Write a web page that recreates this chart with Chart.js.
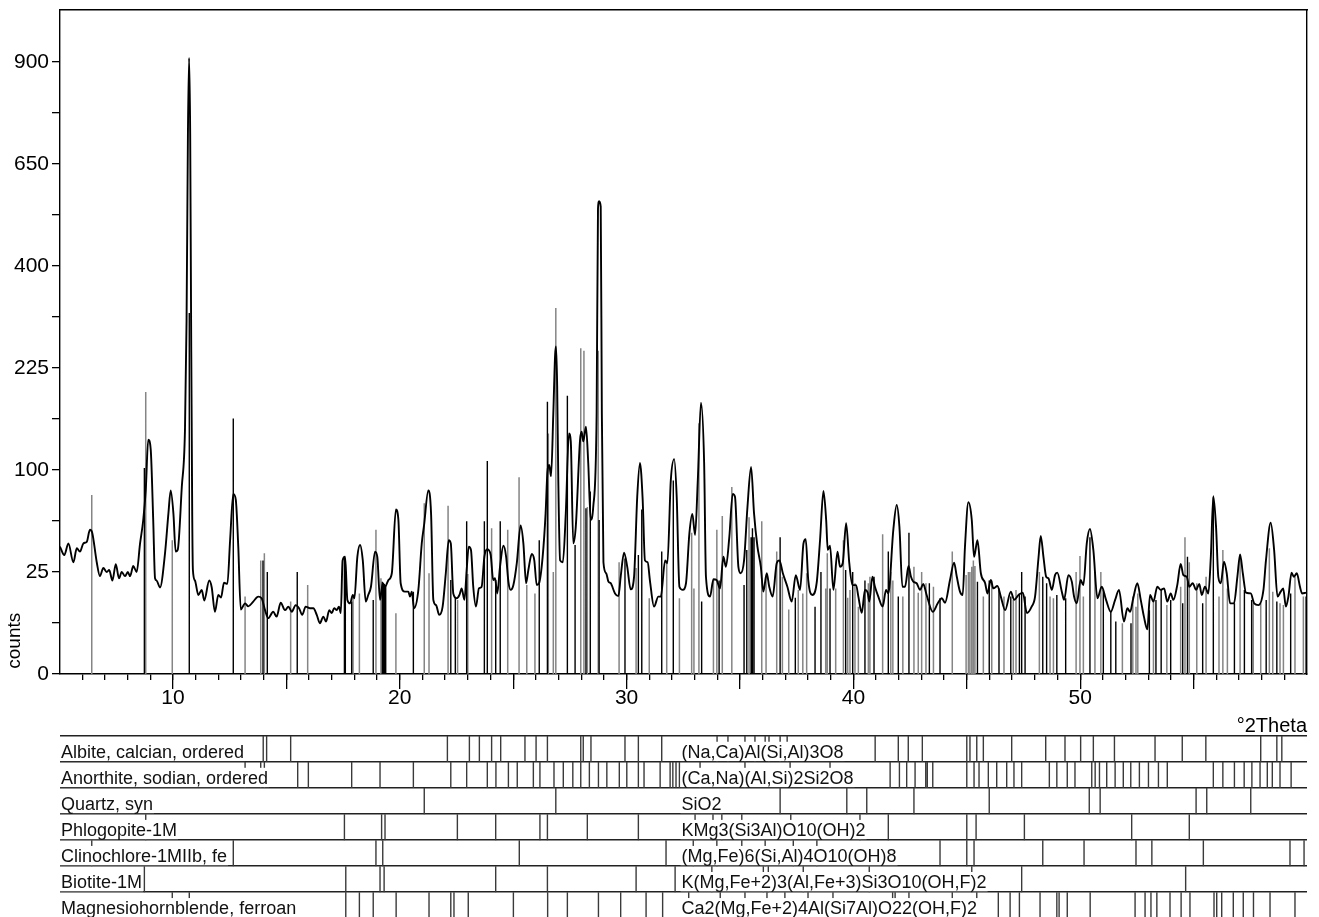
<!DOCTYPE html>
<html><head><meta charset="utf-8">
<script src="https://cdn.jsdelivr.net/npm/chart.js@4.4.1/dist/chart.umd.min.js"></script>
<style>
html,body{margin:0;padding:0;background:#fff;overflow:hidden;width:1319px;height:917px;}
#c1{position:absolute;left:0;top:0;width:1319px;height:740px;}
#c2{position:absolute;left:0;top:730px;width:1319px;height:200px;}
</style></head><body>
<canvas id="c1" width="1319" height="740"></canvas>
<canvas id="c2" width="1319" height="200"></canvas>
<script>
// ---------------- data ----------------
const twoTheta = [5.02,5.21,5.39,5.61,5.76,5.90,6.05,6.20,6.34,6.44,6.64,6.78,6.93,7.08,7.19,7.33,7.48,7.62,7.74,7.89,8.01,8.11,8.25,8.40,8.55,8.69,8.80,8.91,9.02,9.13,9.21,9.28,9.43,9.65,9.80,9.90,10.02,10.12,10.21,10.39,10.53,10.60,10.66,10.71,10.76,10.80,10.85,10.88,10.97,11.12,11.27,11.38,11.60,11.71,11.85,12.00,12.12,12.25,12.40,12.52,12.66,12.77,12.88,12.99,13.18,13.32,13.54,13.76,13.91,14.06,14.20,14.42,14.57,14.75,14.94,15.09,15.24,15.41,15.56,15.70,15.85,16.04,16.19,16.34,16.48,16.63,16.75,16.89,17.00,17.11,17.22,17.32,17.40,17.48,17.59,17.69,17.81,17.93,18.00,18.13,18.25,18.37,18.50,18.61,18.73,18.91,19.01,19.13,19.25,19.35,19.50,19.65,19.83,19.94,20.04,20.23,20.38,20.45,20.53,20.63,20.82,20.97,21.07,21.26,21.38,21.48,21.60,21.74,21.89,22.03,22.16,22.25,22.36,22.51,22.63,22.73,22.85,22.95,23.04,23.14,23.24,23.36,23.49,23.61,23.73,23.86,24.01,24.12,24.20,24.30,24.42,24.57,24.69,24.79,24.89,25.01,25.16,25.33,25.45,25.57,25.67,25.82,25.93,26.04,26.14,26.30,26.43,26.51,26.59,26.67,26.77,26.85,26.89,26.94,26.99,27.07,27.19,27.32,27.46,27.54,27.65,27.76,27.95,28.02,28.09,28.21,28.31,28.42,28.53,28.68,28.74,28.79,28.86,28.91,28.98,29.10,29.20,29.30,29.49,29.64,29.74,29.89,30.03,30.18,30.33,30.47,30.59,30.71,30.81,30.93,31.03,31.21,31.40,31.51,31.70,31.80,31.95,32.10,32.21,32.33,32.48,32.62,32.77,32.90,33.02,33.14,33.28,33.42,33.50,33.68,33.83,33.97,34.12,34.27,34.38,34.53,34.68,34.78,34.93,35.03,35.18,35.33,35.49,35.62,35.77,35.92,36.03,36.18,36.29,36.44,36.62,36.74,36.89,37.09,37.28,37.46,37.65,37.80,37.90,38.01,38.19,38.38,38.53,38.68,38.80,38.87,38.97,39.12,39.30,39.41,39.53,39.68,39.82,39.96,40.12,40.22,40.37,40.51,40.63,40.70,40.84,40.95,41.10,41.29,41.44,41.54,41.76,41.91,42.03,42.16,42.28,42.43,42.54,42.64,42.79,42.94,43.08,43.23,43.50,43.72,43.90,44.04,44.26,44.44,44.56,44.70,44.82,44.92,45.07,45.22,45.32,45.47,45.62,45.81,45.91,46.06,46.17,46.35,46.50,46.69,46.94,47.09,47.28,47.47,47.65,47.86,48.01,48.16,48.26,48.38,48.50,48.60,48.75,48.89,48.99,49.19,49.29,49.48,49.63,49.73,49.85,50.02,50.14,50.29,50.43,50.58,50.76,50.95,51.14,51.35,51.54,51.71,51.93,52.08,52.20,52.34,52.52,52.67,52.81,52.96,53.08,53.23,53.40,53.55,53.70,53.84,53.99,54.11,54.28,54.43,54.55,54.70,54.81,54.96,55.11,55.25,55.36,55.50,55.65,55.76,55.87,55.99,56.09,56.20,56.34,56.46,56.61,56.78,56.93,57.05,57.17,57.31,57.52,57.67,57.86,58.08,58.19,58.40,58.55,58.70,58.84,58.95,59.07,59.18,59.32,59.42,59.55,59.69,59.78,59.96];
const counts = [39,34,41,30,38,36,41,42,50,48,30,23,27,25,26,21,29,22,25,23,25,23,28,25,41,57,81,132,121,57,22,21,18,35,62,81,62,36,37,84,143,300,700,912,700,300,60,26,21,15,17,13,21,18,9.3,15,14,20,19.5,43,78,73,39,10,12,11,12.6,14.4,13.8,9.8,7.5,9.3,7.9,12.2,9.8,10.9,9.3,11.4,10.4,8.4,10.9,10.4,10.4,8.4,6.2,7.9,6.6,9.8,8.9,10.4,9.8,10.9,8.9,31,33,13.2,12,15,13.8,33,40,31,12.6,15,18.3,36,33,13.2,19.8,18.3,21.2,24.4,65,57,19.8,16.3,16.3,14.4,16.3,10.4,17,41,53,81,62,13.2,11.4,8.4,10.9,24.4,43,41,15.6,13.8,15,17.6,13.2,26,39,37,18.3,10.9,17.6,18.3,33,37.4,34,21.2,22,15.6,27.6,39.5,33,20.5,17,19,29.5,53,41,19.8,26,34.6,31.2,19,19.8,33,62,98,105,94,163,245,258,200,90,31,30,62,139,130,41,52,132,141,130,147,107,57,67,163,520,537,525,163,30,24.4,20.5,19.8,15.6,14.6,22.7,35.4,27.6,17.2,22.7,75.5,107,73,31,30,21,10.9,14.4,14.4,31,29.5,90,111,75.5,18.3,17,19.8,47.6,61.5,46.4,90,177,107,22.7,14.4,21.6,21.2,17.6,33,27.6,45,78,75.5,27.6,24.4,31,67,103,62,39,27.6,16.3,24.4,18.3,14.4,29.5,31,24.4,18.3,12.6,23.5,17,41,43.6,21.2,15,19.8,43,80.5,57,37,39.5,17,36,27.6,29.5,54.6,29.5,19,19,14.4,9,17,15.9,12.6,22.7,18.3,14.4,10.9,17,15.6,49.8,68.6,52,18.3,18.3,28,22.7,20.5,19.8,17,19.5,15,9.3,12,13.8,12.2,21.2,29.8,22.7,16.3,15,38.9,70.9,57,33,43,24.4,19.8,15.6,21.2,17.6,18.6,14.4,9.8,16.3,13.2,15,15.9,8.9,10.9,14.4,32.2,45.8,33,22.7,22,17,23.5,24.7,16.3,13.2,23.5,20.5,14.4,12,21.2,19,41,50.5,37,13.8,18.3,13.2,9.3,13.2,17,6.6,10.4,9.3,13.8,19.8,13.2,7.9,4.8,15,12.6,18.3,17,17.6,12.6,15.6,13.2,19,29.1,23.5,22.7,18.3,19.8,17,19.5,15,18.3,15.6,33,76,52,22.7,19.8,30.3,24.4,12,12,22.7,34.4,24.4,15.9,15.6,12,11.4,17,31,55,37,14.4,16.3,17.6,10.9,14.4,24.7,22.7,24.4,18.3,15.6,15.9];

const blackStickPos = [8.74,10.72,12.66,13.97,14.16,15.48,17.56,17.60,17.88,18.83,19.23,19.27,19.32,19.38,20.60,22.25,22.45,22.95,23.73,23.86,24.23,24.43,26.15,26.51,27.39,27.73,28.21,28.40,28.79,29.93,30.52,30.67,31.55,32.06,33.31,34.08,35.18,35.30,35.49,35.55,35.62,36.77,37.44,38.31,38.57,38.97,39.66,39.97,40.51,40.91,41.54,41.98,42.45,43.35,43.82,45.47,45.99,46.42,46.94,47.32,47.42,47.57,48.35,48.52,48.97,49.36,50.43,51.02,51.35,51.57,52.24,53.05,53.34,53.57,53.99,54.52,54.73,55.40,55.87,56.80,57.24,57.56,58.20,58.67,59.28,59.96];
const blackStickCounts = [102,313,157,31,25,25,33,32,12.6,13.2,20.5,19,19.5,19,16.3,21.2,13.8,56,56,109,21.2,56,43,178,186,40,66,80,57,32,34,65,36,90,12.6,21,19,37,45,51,45,45,14,10.9,25,17.6,26,25,21,22.7,36,14.4,48,19.8,13.8,20.5,21,17.6,14.4,15.6,25,14.4,22.7,19.8,15,13.8,45,17,9.3,6.6,6.2,9.8,13.2,17,13.2,12,33,12,75,12,17,13.2,13.2,12.6,15.6,14.4];
const grayStickPos = [6.42,8.80,9.97,13.18,13.87,14.03,15.19,15.94,17.94,18.22,18.95,19.17,19.83,21.08,21.29,22.13,22.55,23.00,24.05,24.76,25.26,25.60,25.96,26.55,26.77,26.88,27.98,28.12,28.27,28.75,29.67,30.42,31.00,31.77,32.33,32.87,32.97,33.19,33.83,33.98,34.22,34.64,35.40,35.96,36.15,36.62,36.87,37.15,37.57,37.77,37.94,38.78,38.85,39.22,39.56,39.75,39.85,40.07,40.22,40.66,40.73,41.29,41.65,41.74,42.18,42.67,42.86,43.01,43.20,43.53,44.36,44.97,45.07,45.14,45.22,45.29,45.36,45.73,46.10,46.64,47.05,47.17,48.20,48.67,48.82,49.82,49.99,50.14,50.65,50.91,51.86,52.32,52.46,52.54,53.23,53.82,54.43,54.62,54.81,55.14,55.55,56.12,56.29,56.49,57.05,57.63,57.96,58.34,58.49,58.81,58.96,59.47,59.84];
const grayStickCounts = [77,191,43,14.4,31,35,12.6,19,14,15.6,50,22,8.9,70,24.4,68,13.2,24,51,50,93,19,15.6,139,25,322,255,251,67,251,30,27,13.8,29.5,13.8,48,17.6,151,21,50,60,84,59,56,22.7,36,22.7,10,17,15.6,24.4,17.6,35,17.6,43,14,17,19.8,10.9,19.8,22.7,47,25,21,14.4,27.6,15.9,25,19.8,18.3,36,23.5,25,25,27.6,31,28,14.4,21,14.4,13.2,17,25,14.4,13.8,25,33.5,14.4,25,25,6.2,14.4,10.9,15.6,13.2,11.4,18.3,45,30,19.8,22.7,14.4,37,17.6,34,12,12,38,16.3,12,11.4,22.7,14.4];

const phaseNames = ['Albite, calcian, ordered','Anorthite, sodian, ordered','Quartz, syn','Phlogopite-1M','Clinochlore-1MIIb, fe','Biotite-1M','Magnesiohornblende, ferroan'];
const phaseFormulas = ['(Na,Ca)Al(Si,Al)3O8','(Ca,Na)(Al,Si)2Si2O8','SiO2','KMg3(Si3Al)O10(OH)2','(Mg,Fe)6(Si,Al)4O10(OH)8','K(Mg,Fe+2)3(Al,Fe+3)Si3O10(OH,F)2','Ca2(Mg,Fe+2)4Al(Si7Al)O22(OH,F)2'];
const albiteLines = [13.98,14.13,15.19,22.10,23.07,23.51,24.05,24.45,25.52,26.01,26.51,27.98,28.09,28.43,29.93,30.52,31.55,33.99,34.47,35.22,35.66,36.11,36.28,36.77,37.08,40.96,41.98,42.42,43.04,45.00,45.14,45.44,45.73,46.98,48.48,49.33,50.02,50.58,51.51,53.30,54.50,55.54,57.96,58.67,58.89];
const anorthiteLines = [13.18,13.87,14.03,15.50,15.97,17.88,19.13,20.60,22.25,22.95,23.86,24.24,24.79,25.18,25.89,26.18,26.80,27.21,27.63,27.98,28.36,28.76,29.13,29.68,30.01,30.52,30.77,31.48,31.92,32.04,32.18,32.33,33.24,35.22,37.21,38.97,41.62,42.03,42.35,42.72,43.19,43.26,43.50,45.00,45.32,45.54,45.95,46.32,46.76,47.08,47.42,48.64,48.97,49.43,49.77,50.51,50.66,50.85,51.17,51.54,51.90,52.23,52.61,53.01,53.45,53.84,55.87,56.29,56.80,57.23,57.57,57.93,58.25,58.47,58.81,59.30];
const quartzLines = [21.08,26.88,36.77,39.71,40.59,42.67,45.99,50.40,50.88,55.11,55.58,57.52];
const phlogopiteLines = [8.80,17.56,19.20,19.35,22.54,24.23,26.18,26.51,28.27,30.52,33.02,33.81,34.20,35.08,37.24,40.29,41.54,45.00,45.41,47.54,52.27,54.81];
const clinochloreLines = [6.42,12.66,18.95,19.25,25.27,31.74,32.94,33.98,35.08,36.11,37.35,38.39,43.82,45.00,45.32,48.35,50.17,52.46,53.16,55.43,59.25,59.87];
const biotiteLines = [8.74,17.62,19.13,19.31,24.23,26.51,30.42,32.14,33.76,36.03,36.25,37.79,40.70,45.22,47.42,54.65];
const hornblendeLines = [9.97,10.72,17.62,18.22,18.83,19.84,21.29,22.25,22.39,23.02,25.01,26.52,27.39,28.76,29.74,30.86,31.59,32.74,34.13,35.22,36.19,36.98,38.0,39.1,41.73,41.84,42.45,44.36,45.44,46.39,46.91,47.32,48.23,48.97,49.07,49.43,50.44,52.42,52.86,53.12,53.38,53.96,54.45,54.84,55.90,56.02,56.24,56.75,57.19,57.64,58.37,59.47];
const phaseLines = [albiteLines,anorthiteLines,quartzLines,phlogopiteLines,clinochloreLines,biotiteLines,hornblendeLines];

const xTickLabels = [10,20,30,40,50];
const yTickLabels = ['0','25','100','225','400','650','900'];

// ---------------- setup ----------------
const X_MIN = 5.02, X_MAX = 60.0, Y_MAX = 32.55; // y axis in sqrt(counts)
const FONT = "'Liberation Sans', Arial, Helvetica, sans-serif";
Chart.defaults.font.family = FONT;
Chart.defaults.color = '#000';

function curvePts(xs, ys){ return xs.map((x,i)=>({x:x, y:Math.sqrt(ys[i])})); }
function stickPts(xs, ys){ const out=[]; xs.forEach((x,i)=>{ out.push({x:x,y:0},{x:x,y:Math.sqrt(ys[i])},{x:x,y:null}); }); return out; }
function rowPts(xs, row){ const out=[]; xs.forEach(x=>{ out.push({x:x,y:row},{x:x,y:row+1},{x:x,y:null}); }); return out; }

const minorX = []; for (let v=6; v<=59; v++) minorX.push({value:v});
const majorX = []; for (let v=10; v<=55; v+=5) majorX.push({value:v});
const yTicks = []; for (let v=0; v<=30; v+=2.5) yTicks.push({value:v});

new Chart(document.getElementById('c1'), {
  type: 'line',
  data: { datasets: [
    { label:'scan', data: curvePts(twoTheta, counts), xAxisID:'x', yAxisID:'y', borderColor:'#000', borderWidth:1.9, pointRadius:0, cubicInterpolationMode:'monotone', order:0 },
    { label:'ref black', data: stickPts(blackStickPos, blackStickCounts), xAxisID:'x', yAxisID:'y', borderColor:'#000', borderWidth:1.4, pointRadius:0, spanGaps:false, order:1 },
    { label:'ref gray', data: stickPts(grayStickPos, grayStickCounts), xAxisID:'x', yAxisID:'y', borderColor:'#858585', borderWidth:1.5, pointRadius:0, spanGaps:false, order:2 }
  ]},
  options: {
    responsive:false, animation:false, devicePixelRatio:1,
    layout:{ padding:{ left:0, right:12, top:10, bottom:0 } },
    plugins:{ legend:{display:false}, tooltip:{enabled:false} },
    scales:{
      x:{ type:'linear', position:'bottom', weight:0, min:X_MIN, max:X_MAX,
          afterBuildTicks:s=>{ s.ticks = minorX.map(t=>({value:t.value})); },
          afterFit:s=>{ s.height = 0; },
          ticks:{ display:false },
          grid:{ drawOnChartArea:false, drawTicks:true, tickLength:6, color:'#000', lineWidth:1.3 },
          border:{ display:true, color:'#000', width:1.4 } },
      x2:{ type:'linear', position:'bottom', weight:1, min:X_MIN, max:X_MAX,
          afterBuildTicks:s=>{ s.ticks = majorX.map(t=>({value:t.value})); },
          afterFit:s=>{ s.height = 66; },
          ticks:{ autoSkip:false, maxRotation:0, padding:-1, font:{size:21, lineHeight:1.0}, color:'#000',
                  callback:v=> xTickLabels.includes(v) ? String(v) : '' },
          grid:{ drawOnChartArea:false, drawTicks:true, tickLength:15, color:'#000', lineWidth:1.3 },
          border:{ display:false },
          title:{ display:true, text:'°2Theta', align:'end', color:'#000', font:{size:20}, padding:{top:0,bottom:2} } },
      xT:{ type:'linear', position:'top', afterFit:s=>{ s.height = 0; }, ticks:{display:false},
          grid:{ drawOnChartArea:false, drawTicks:false }, border:{ display:true, color:'#000', width:1.4 } },
      y:{ type:'linear', position:'left', min:0, max:Y_MAX,
          afterBuildTicks:s=>{ s.ticks = yTicks.map(t=>({value:t.value})); },
          afterFit:s=>{ s.width = 60; },
          ticks:{ autoSkip:false, padding:3, font:{size:21, lineHeight:0.5}, color:'#000',
                  callback:v=> (Math.abs(v/5 - Math.round(v/5))<1e-6 ? yTickLabels[Math.round(v/5)] : '') },
          grid:{ drawOnChartArea:false, drawTicks:true, tickLength:8, color:'#000', lineWidth:1.3 },
          border:{ display:true, color:'#000', width:1.4 },
          title:{ display:true, text:' counts', align:'start', color:'#000', font:{size:19}, padding:{top:3,bottom:0} } },
      yR:{ type:'linear', position:'right', afterFit:s=>{ s.width = 0; }, ticks:{display:false},
          grid:{ drawOnChartArea:false, drawTicks:false }, border:{ display:true, color:'#000', width:1.4 } }
    }
  }
});

const rowLabelPlugin = {
  id:'rowLabels',
  afterDatasetsDraw(chart){
    const {ctx, chartArea, scales} = chart;
    const y = scales.y;
    ctx.save();
    ctx.font = '18px ' + FONT;
    ctx.textBaseline = 'alphabetic';
    const draw = (text, x, base, bottom) => {
      const w = ctx.measureText(text).width;
      ctx.fillStyle = '#fff';
      ctx.fillRect(x, base - 16.3, w + 2, bottom - 1 - (base - 16.3));
      ctx.fillStyle = '#111';
      ctx.fillText(text, x + 1, base);
    };
    phaseNames.forEach((name, i) => {
      const bottom = y.getPixelForValue(i + 1);
      const base = bottom - 4;
      draw(name, chartArea.left, base, bottom);
      draw(phaseFormulas[i], chartArea.left + 620.5, base, bottom);
    });
    ctx.restore();
  }
};

new Chart(document.getElementById('c2'), {
  type:'line',
  data:{ datasets: phaseLines.map((pos, i) => ({ label: phaseNames[i], data: rowPts(pos, i), borderColor:'#3a3a3a', borderWidth:1.4, pointRadius:0, spanGaps:false })) },
  options:{
    responsive:false, animation:false, devicePixelRatio:1,
    layout:{ padding:{ left:60, right:12, top:6, bottom:11.65 } },
    plugins:{ legend:{display:false}, tooltip:{enabled:false} },
    scales:{
      x:{ type:'linear', min:X_MIN, max:X_MAX, display:false },
      y:{ type:'linear', min:0, max:7, reverse:true,
          afterBuildTicks:s=>{ const t=[]; for(let v=0; v<=7; v++) t.push({value:v}); s.ticks=t; },
          afterFit:s=>{ s.width = 0; },
          ticks:{ display:false },
          grid:{ color:'#222', lineWidth:1.6, drawTicks:false },
          border:{ display:false } }
    }
  },
  plugins:[rowLabelPlugin]
});
</script>
</body></html>
